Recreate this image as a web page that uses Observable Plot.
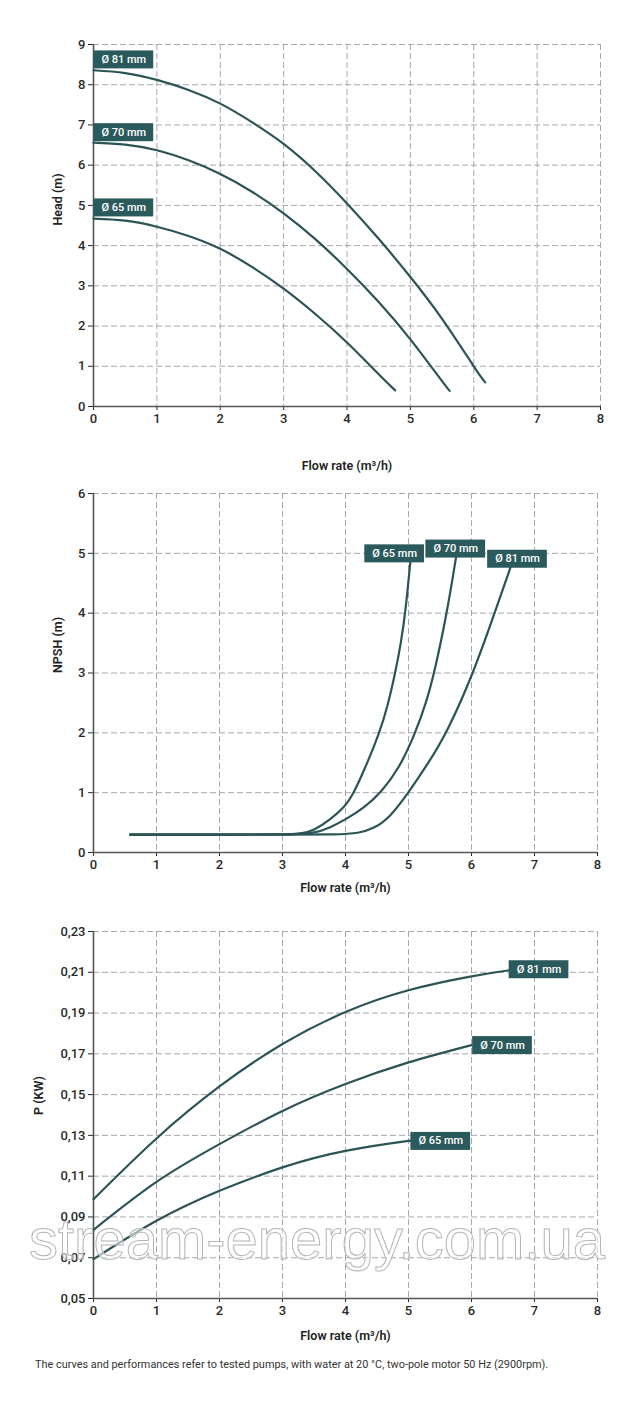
<!DOCTYPE html>
<html>
<head>
<meta charset="utf-8">
<script src="https://cdn.jsdelivr.net/npm/d3@7"></script>
<script src="https://cdn.jsdelivr.net/npm/@observablehq/plot@0.6"></script>
<style>
  html, body { margin: 0; padding: 0; background: #fff; }
  #page { position: relative; width: 640px; height: 1411px; overflow: hidden; font-family: Roboto, sans-serif; }
  .chart { position: absolute; left: 0; }
  #caption { position: absolute; left: 35px; top: 1357px; font: 400 11.5px Roboto, sans-serif; color: #333; white-space: nowrap; transform-origin: 0 0; }
  #watermark { position: absolute; left: 29px; top: 1205px; font: 300 58px "Liberation Sans", Arial, sans-serif; color: rgba(255,255,255,0.55); -webkit-text-stroke: 1px #b5b5b5; white-space: nowrap; transform-origin: 0 0; pointer-events: none; }
</style>
</head>
<body>
<div id="page">
  <div class="chart" id="c1" style="top:0px"></div>
  <div class="chart" id="c2" style="top:480px"></div>
  <div class="chart" id="c3" style="top:900px"></div>
  <div id="watermark">stream-energy.com.ua</div>
  <div id="caption">The curves and performances refer to tested pumps, with water at 20 °C, two-pole motor 50 Hz (2900rpm).</div>
</div>
<script>
// ---------- DATA ----------
const flowTicks = [0, 1, 2, 3, 4, 5, 6, 7, 8];
const headTicks = [0, 1, 2, 3, 4, 5, 6, 7, 8, 9];
const npshTicks = [0, 1, 2, 3, 4, 5, 6];
const powerTicks = [0.05, 0.07, 0.09, 0.11, 0.13, 0.15, 0.17, 0.19, 0.21, 0.23];
const seriesNames = ["Ø 81 mm", "Ø 70 mm", "Ø 65 mm"];

// Head curves
const head81Flow = [0, 0.5, 1, 1.5, 2, 2.5, 3, 3.5, 4, 4.5, 5, 5.5, 6, 6.18];
const head81 =     [8.36, 8.29, 8.12, 7.87, 7.53, 7.07, 6.53, 5.85, 5.05, 4.17, 3.22, 2.18, 1.0, 0.6];
const head70Flow = [0, 0.5, 1, 1.5, 2, 2.5, 3, 3.5, 4, 4.5, 5, 5.5, 5.62];
const head70 =     [6.56, 6.51, 6.37, 6.12, 5.78, 5.34, 4.8, 4.16, 3.42, 2.6, 1.67, 0.63, 0.39];
const head65Flow = [0, 0.5, 1, 1.5, 2, 2.5, 3, 3.5, 4, 4.5, 4.76];
const head65 =     [4.67, 4.62, 4.47, 4.24, 3.92, 3.47, 2.93, 2.3, 1.59, 0.8, 0.4];
const headLabelX = [0, 0, 0];
const headLabelY = [8.63, 6.82, 4.95];

// NPSH curves
const npsh65Flow = [0.58, 1, 2, 3, 3.3, 3.5, 3.76, 4.0, 4.11, 4.3, 4.54, 4.67, 4.79, 4.88, 4.95, 5.03];
const npsh65 =     [0.3, 0.3, 0.3, 0.3, 0.31, 0.37, 0.55, 0.78, 0.95, 1.38, 2.0, 2.45, 3.0, 3.5, 4.0, 4.87];
const npsh70Flow = [0.58, 1, 2, 3, 3.5, 3.76, 4.0, 4.3, 4.56, 4.85, 5.11, 5.28, 5.41, 5.61, 5.76];
const npsh70 =     [0.3, 0.3, 0.3, 0.3, 0.31, 0.42, 0.55, 0.75, 1.0, 1.4, 2.0, 2.5, 3.0, 4.0, 4.97];
const npsh81Flow = [0.58, 1, 2, 3, 3.9, 4.2, 4.45, 4.7, 5.0, 5.3, 5.61, 6.03, 6.35, 6.62];
const npsh81 =     [0.3, 0.3, 0.3, 0.3, 0.3, 0.32, 0.4, 0.58, 1.0, 1.47, 2.0, 3.0, 3.95, 4.77];
const npshLabelX = [6.73, 5.75, 4.78];
const npshLabelY = [4.91, 5.08, 5.0];

// Power curves
const power81Flow = [0, 1, 2, 3, 4, 5, 6, 6.6];
const power81 =     [0.0987, 0.1285, 0.154, 0.1748, 0.1905, 0.2012, 0.208, 0.211];
const power70Flow = [0, 1, 2, 3, 4, 5, 6];
const power70 =     [0.0837, 0.1072, 0.1257, 0.142, 0.1552, 0.1658, 0.1743];
const power65Flow = [0, 1, 2, 3, 4, 5, 5.03];
const power65 =     [0.0693, 0.0881, 0.1028, 0.1143, 0.1224, 0.1273, 0.1273];
const powerLabelX = [6.59, 6.01, 5.03];
const powerLabelY = [0.2115, 0.1743, 0.1273];

// ---------- HELPERS ----------
const curveColor = "#2b5457";
const boxColor = "#2b5a5d";
const toRows = (xs, ys, name) => xs.map((x, i) => ({x, y: ys[i], name}));
const labelRows = (xs, ys) => seriesNames.map((name, i) => ({x: xs[i], y: ys[i], name}));
const comma = d => d.toFixed(2).replace(".", ",");

function chart({height, marginTop, marginBottom, marginRight, yDomain, yTicks, yFormat, lines, curve, labels, anchor, xLabelDy, yLabel, yLabelDx}) {
  return Plot.plot({
    width: 640, height, marginLeft: 93, marginRight, marginTop, marginBottom,
    style: {fontFamily: "Roboto, sans-serif", fontSize: "13px", fontWeight: 500, color: "#2a2a2a", background: "white", overflow: "visible"},
    x: {domain: [0, 8], ticks: flowTicks, tickSize: 4, tickPadding: 3, label: null},
    y: {domain: yDomain, ticks: yTicks, tickFormat: yFormat, tickSize: 5, tickPadding: 3, label: null},
    marks: [
      Plot.ruleX(flowTicks.slice(1), {stroke: "#a8a8a8", strokeWidth: 1, strokeDasharray: "6,3"}),
      Plot.ruleY(yTicks.slice(1), {stroke: "#a8a8a8", strokeWidth: 1, strokeDasharray: "6,3"}),
      Plot.ruleY([yDomain[0]], {stroke: "#555", strokeWidth: 1.6}),
      Plot.ruleX([0], {stroke: "#555", strokeWidth: 1.6}),
      Plot.line(lines, {x: "x", y: "y", z: "name", stroke: curveColor, strokeWidth: 2.2, curve}),
      Plot.text(labels, {x: "x", y: "y", text: "name", fill: "white", fontSize: 11, fontWeight: 500, textAnchor: anchor, dx: anchor === "start" ? 8 : 0, lineAnchor: "middle"}),
      Plot.text(["Flow rate (m³/h)"], {frameAnchor: "bottom", dy: xLabelDy, fontSize: 12.5, fontWeight: 600, fill: "#222", lineAnchor: "middle"}),
      Plot.text([yLabel], {frameAnchor: "left", dx: yLabelDx, rotate: -90, fontSize: 12.5, fontWeight: 600, fill: "#222", lineAnchor: "middle"})
    ]
  });
}

function boxLabels(svg) {
  svg.querySelectorAll("text").forEach(t => {
    if (!t.textContent.startsWith("Ø")) return;
    const b = t.getBBox();
    const r = document.createElementNS("http://www.w3.org/2000/svg", "rect");
    r.setAttribute("x", b.x - 8);
    r.setAttribute("y", b.y - 2.5);
    r.setAttribute("width", b.width + 15);
    r.setAttribute("height", b.height + 5);
    r.setAttribute("fill", boxColor);
    r.setAttribute("stroke", "none");
    if (t.getAttribute("transform")) r.setAttribute("transform", t.getAttribute("transform"));
    t.parentNode.insertBefore(r, t);
  });
}

// ---------- CHARTS ----------
const c1 = chart({
  height: 480, marginTop: 44, marginBottom: 74, marginRight: 40,
  yDomain: [0, 9], yTicks: headTicks, yFormat: d => String(d),
  lines: [...toRows(head81Flow, head81, seriesNames[0]), ...toRows(head70Flow, head70, seriesNames[1]), ...toRows(head65Flow, head65, seriesNames[2])],
  curve: "natural",
  labels: labelRows(headLabelX, headLabelY), anchor: "start",
  xLabelDy: 59, yLabel: "Head (m)", yLabelDx: -36
});
document.getElementById("c1").append(c1);
boxLabels(c1);

const c2 = chart({
  height: 420, marginTop: 13, marginBottom: 48, marginRight: 43,
  yDomain: [0, 6], yTicks: npshTicks, yFormat: d => String(d),
  lines: [...toRows(npsh81Flow, npsh81, seriesNames[0]), ...toRows(npsh70Flow, npsh70, seriesNames[1]), ...toRows(npsh65Flow, npsh65, seriesNames[2])],
  curve: "basis",
  labels: labelRows(npshLabelX, npshLabelY), anchor: "middle",
  xLabelDy: 35, yLabel: "NPSH (m)", yLabelDx: -36
});
document.getElementById("c2").append(c2);
boxLabels(c2);

const c3 = chart({
  height: 450, marginTop: 31, marginBottom: 52, marginRight: 43,
  yDomain: [0.05, 0.23], yTicks: powerTicks, yFormat: comma,
  lines: [...toRows(power81Flow, power81, seriesNames[0]), ...toRows(power70Flow, power70, seriesNames[1]), ...toRows(power65Flow, power65, seriesNames[2])],
  curve: "natural",
  labels: labelRows(powerLabelX, powerLabelY), anchor: "start",
  xLabelDy: 37, yLabel: "P (KW)", yLabelDx: -55
});
document.getElementById("c3").append(c3);
boxLabels(c3);

// fit caption & watermark widths
const cap = document.getElementById("caption");
cap.style.transform = `scaleX(${513 / cap.offsetWidth})`;
const wm = document.getElementById("watermark");
wm.style.transform = `scaleX(${576 / wm.offsetWidth})`;
</script>
</body>
</html>
